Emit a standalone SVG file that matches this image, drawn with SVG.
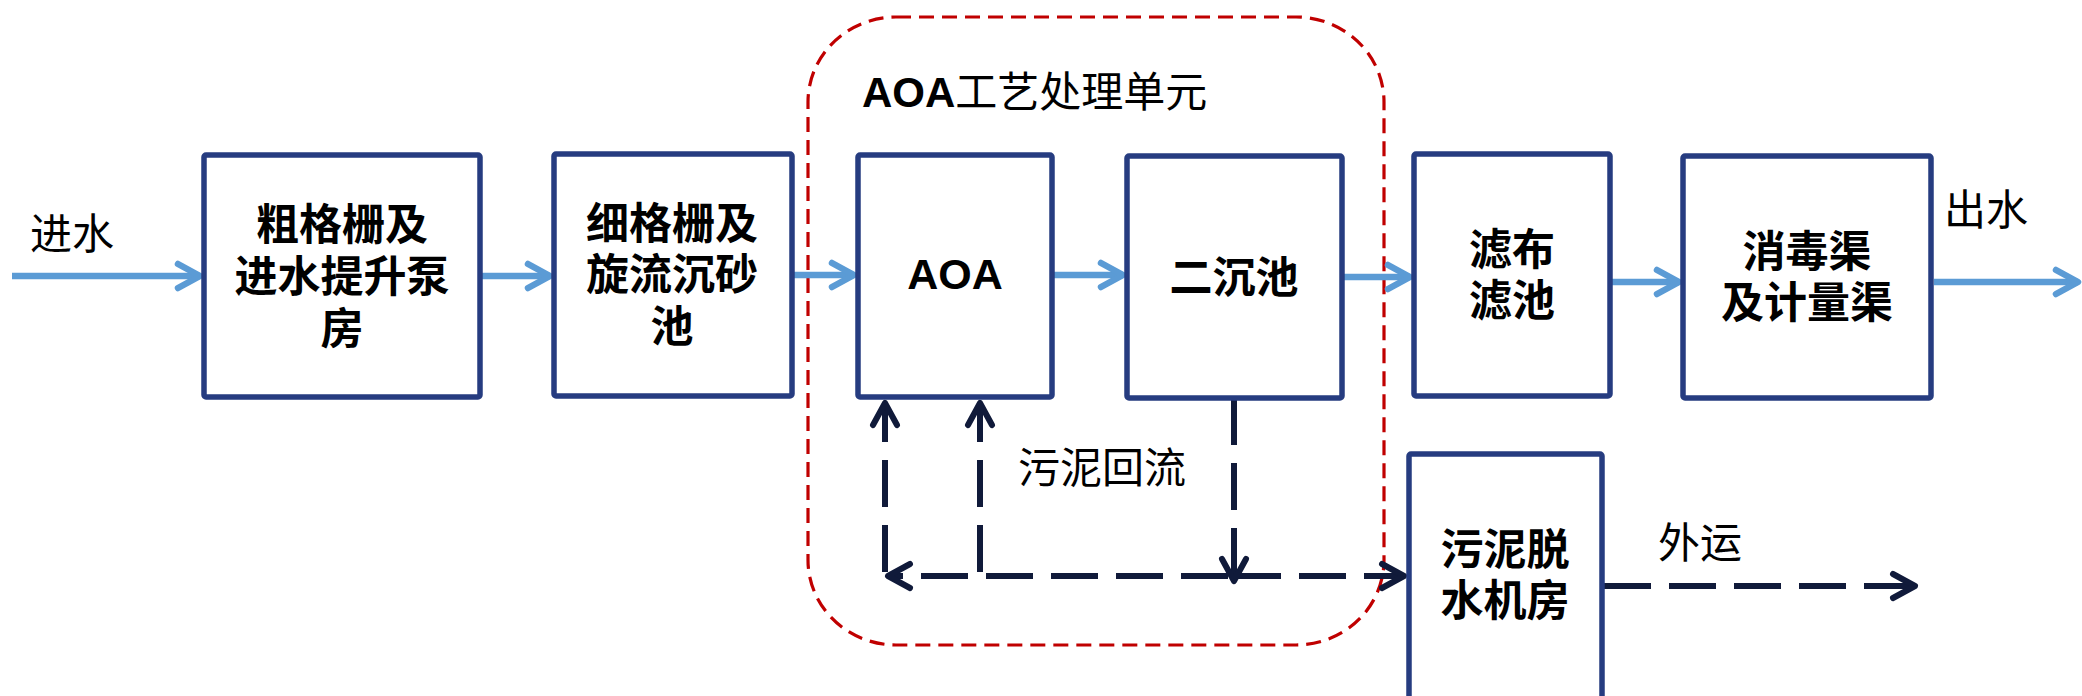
<svg xmlns="http://www.w3.org/2000/svg" width="2082" height="696" viewBox="0 0 2082 696">
<style>
.box{fill:#fff;stroke:#263C80;stroke-width:5.5;stroke-linejoin:round}
.bt{font-family:"Liberation Sans","Noto Sans CJK SC",sans-serif;font-weight:bold;font-size:43px;fill:#000;text-anchor:middle}
.lb{font-family:"Liberation Sans","Noto Sans CJK SC",sans-serif;font-size:42px;fill:#000}
.flow{fill:none;stroke:#5B9BD5;stroke-width:6.5}
.sl{fill:none;stroke:#101A3A;stroke-width:6;stroke-dasharray:47 18}
</style>
<defs>
<marker id="ab" markerUnits="userSpaceOnUse" markerWidth="40" markerHeight="40" viewBox="-30 -20 40 40" refX="0" refY="0" orient="auto" overflow="visible">
<path d="M-22,-12 L0,0 L-22,12" fill="none" stroke="#5B9BD5" stroke-width="6.5" stroke-linecap="round" stroke-linejoin="round"/>
</marker>
<marker id="an" markerUnits="userSpaceOnUse" markerWidth="40" markerHeight="40" viewBox="-30 -20 40 40" refX="0" refY="0" orient="auto" overflow="visible">
<path d="M-22,-12 L0,0 L-22,12" fill="none" stroke="#101A3A" stroke-width="6" stroke-linecap="round" stroke-linejoin="round"/>
</marker>
</defs>
<rect width="2082" height="696" fill="#fff"/>

<g id="aoa-unit">
<rect x="808" y="17" width="576" height="628" rx="88" ry="85" fill="none" stroke="#C00000" stroke-width="3.2" stroke-dasharray="15 8"/>
<text x="862" y="107" class="lb"><tspan font-weight="bold">AOA</tspan>工艺处理单元</text>
</g>

<g id="connectors">
<line class="flow" x1="12" y1="276" x2="200" y2="276" marker-end="url(#ab)"/>
<line class="flow" x1="482" y1="276" x2="550" y2="276" marker-end="url(#ab)"/>
<line class="flow" x1="794" y1="275" x2="854" y2="275" marker-end="url(#ab)"/>
<line class="flow" x1="1054" y1="275" x2="1123" y2="275" marker-end="url(#ab)"/>
<line class="flow" x1="1344" y1="277" x2="1410" y2="277" marker-end="url(#ab)"/>
<line class="flow" x1="1612" y1="282" x2="1679" y2="282" marker-end="url(#ab)"/>
<line class="flow" x1="1934" y1="282" x2="2078" y2="282" marker-end="url(#ab)"/>
<line class="sl" x1="885" y1="572" x2="885" y2="403" marker-end="url(#an)"/>
<line class="sl" x1="980" y1="572" x2="980" y2="403" marker-end="url(#an)"/>
<line class="sl" x1="1234" y1="398" x2="1234" y2="581" marker-end="url(#an)"/>
<line class="sl" x1="1228" y1="576" x2="888" y2="576" marker-end="url(#an)"/>
<line class="sl" x1="1234" y1="576" x2="1404" y2="576" stroke-dasharray="44 19" marker-end="url(#an)"/>
<line class="sl" x1="1604" y1="586" x2="1915" y2="586" stroke-dasharray="46 19" marker-end="url(#an)"/>
<text x="1018" y="483" class="lb">污泥回流</text>
<text x="30" y="249" class="lb">进水</text>
<text x="1944" y="225" class="lb">出水</text>
<text x="1658" y="558" class="lb">外运</text>
</g>

<g id="n-coarse">
<rect class="box" x="204" y="155" width="276" height="242" rx="2"/>
<text class="bt" x="342" y="240">粗格栅及</text>
<text class="bt" x="342" y="292">进水提升泵</text>
<text class="bt" x="342" y="344">房</text>
</g>
<g id="n-fine">
<rect class="box" x="554" y="154" width="238" height="242" rx="2"/>
<text class="bt" x="672" y="239">细格栅及</text>
<text class="bt" x="672" y="290">旋流沉砂</text>
<text class="bt" x="672" y="342">池</text>
</g>
<g id="n-aoa">
<rect class="box" x="858" y="155" width="194" height="242" rx="2"/>
<text class="bt" x="955" y="289">AOA</text>
</g>
<g id="n-clarifier">
<rect class="box" x="1127" y="156" width="215" height="242" rx="2"/>
<text class="bt" x="1234" y="293">二沉池</text>
</g>
<g id="n-filter">
<rect class="box" x="1414" y="154" width="196" height="242" rx="2"/>
<text class="bt" x="1512" y="265">滤布</text>
<text class="bt" x="1512" y="316">滤池</text>
</g>
<g id="n-disinfect">
<rect class="box" x="1683" y="156" width="248" height="242" rx="2"/>
<text class="bt" x="1807" y="267">消毒渠</text>
<text class="bt" x="1807" y="318">及计量渠</text>
</g>
<g id="n-sludge">
<rect class="box" x="1409" y="454" width="193" height="262" rx="2"/>
<text class="bt" x="1505" y="565">污泥脱</text>
<text class="bt" x="1505" y="616">水机房</text>
</g>
</svg>
